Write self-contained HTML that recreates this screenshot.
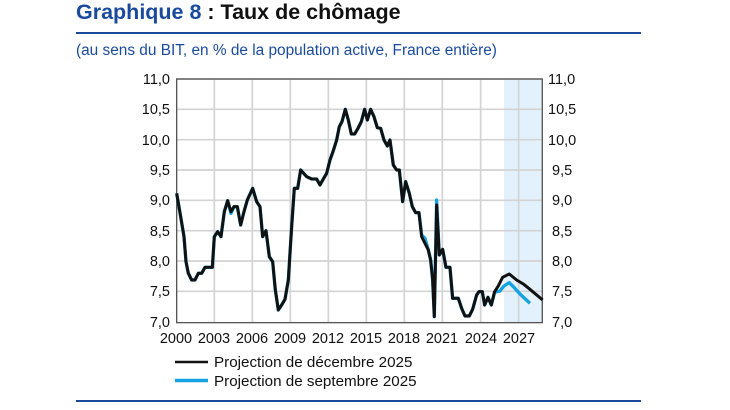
<!DOCTYPE html>
<html><head><meta charset="utf-8"><style>
body{margin:0;background:#fff;width:730px;height:410px;overflow:hidden}
svg{display:block;font-family:"Liberation Sans",Arial,sans-serif}
</style></head><body>
<svg width="730" height="410" viewBox="0 0 730 410">
<text x="76" y="19" font-size="21.5" font-weight="bold" fill="#1a4a9c">Graphique 8 <tspan fill="#111">: Taux de chômage</tspan></text>
<rect x="76" y="32" width="565" height="2" fill="#1d4a9a"/>
<text x="76" y="55" font-size="15.4" fill="#1a4a9c">(au sens du BIT, en % de la population active, France entière)</text>
<g transform="translate(160,60) scale(0.3333)">
<rect x="1032" y="57" width="115" height="731" fill="#e3f1fc"/>
<g stroke="#d3d3d3" stroke-width="5">
<line x1="50" x2="1147" y1="57" y2="57"/><line x1="50" x2="1147" y1="148" y2="148"/><line x1="50" x2="1147" y1="239" y2="239"/><line x1="50" x2="1147" y1="330" y2="330"/><line x1="50" x2="1147" y1="421" y2="421"/><line x1="50" x2="1147" y1="512" y2="512"/><line x1="50" x2="1147" y1="603" y2="603"/><line x1="50" x2="1147" y1="694" y2="694"/>
<line y1="57" y2="788" x1="163" x2="163"/><line y1="57" y2="788" x1="277" x2="277"/><line y1="57" y2="788" x1="391" x2="391"/><line y1="57" y2="788" x1="505" x2="505"/><line y1="57" y2="788" x1="619" x2="619"/><line y1="57" y2="788" x1="733" x2="733"/><line y1="57" y2="788" x1="847" x2="847"/><line y1="57" y2="788" x1="962" x2="962"/><line y1="57" y2="788" x1="1076" x2="1076"/>
</g>
<rect x="50" y="57" width="1097" height="731" fill="none" stroke="#555" stroke-width="4"/>
<polyline fill="none" stroke="#14a3e0" stroke-width="10" stroke-linejoin="round" points="50,400 62,470 72,530 78,605 85,640 95,660 105,660 115,640 125,640 135,622 150,622 157,622 163,530 173,515 183,530 193,455 203,422 213,460 222,440 232,440 242,495 252,455 262,420 278,385 290,425 300,440 308,530 318,512 328,590 338,605 346,690 355,750 365,735 375,718 385,660 395,500 403,385 413,385 422,330 440,350 455,357 470,357 480,375 490,357 500,340 510,300 520,272 530,240 538,200 546,185 556,148 565,180 574,222 584,222 594,205 604,185 614,148 622,180 632,148 642,170 652,203 662,205 672,240 682,258 690,240 700,315 710,330 718,330 728,425 737,365 748,400 757,440 767,458 777,458 785,525 795,535 805,570 812,600 818,660 823,770 830,420 838,585 848,568 858,622 870,622 878,715 895,715 905,745 915,768 928,768 938,748 950,705 957,695 967,695 974,735 984,712 994,735 1004,697 1020,693 1032,678 1048,668 1060,680 1080,702 1110,730"/>
<polyline fill="none" stroke="#111" stroke-width="9" stroke-linejoin="round" points="50,400 62,470 72,530 78,605 85,640 95,660 105,660 115,640 125,640 135,622 150,622 157,622 163,530 173,515 183,530 193,455 203,422 213,455 222,440 232,440 242,495 252,455 262,420 278,385 290,425 300,440 308,530 318,512 328,590 338,605 346,690 355,750 365,735 375,718 385,660 395,500 403,385 413,385 422,330 440,350 455,357 470,357 480,375 490,357 500,340 510,300 520,272 530,240 538,200 546,185 556,148 565,180 574,222 584,222 594,205 604,185 614,148 622,180 632,148 642,170 652,203 662,205 672,240 682,258 690,240 700,315 710,330 718,330 728,425 737,365 748,400 757,440 767,458 777,458 785,530 795,550 805,570 812,600 818,660 823,770 830,435 838,585 848,568 858,622 870,622 878,715 895,715 905,745 915,768 928,768 938,748 950,705 957,695 967,695 974,735 984,712 994,735 1004,695 1015,678 1028,652 1048,642 1070,660 1090,672 1110,688 1148,720"/>
</g>
<g font-size="14.5" fill="#111">
<g text-anchor="end">
<text x="170" y="84">11,0</text><text x="170" y="114">10,5</text><text x="170" y="145">10,0</text><text x="170" y="175">9,5</text><text x="170" y="205">9,0</text><text x="170" y="236">8,5</text><text x="170" y="266">8,0</text><text x="170" y="296">7,5</text><text x="170" y="327">7,0</text>
</g>
<g text-anchor="start">
<text x="548" y="84">11,0</text><text x="548" y="114">10,5</text><text x="548" y="145">10,0</text><text x="552" y="175">9,5</text><text x="552" y="205">9,0</text><text x="552" y="236">8,5</text><text x="552" y="266">8,0</text><text x="552" y="296">7,5</text><text x="552" y="327">7,0</text>
</g>
<g text-anchor="middle">
<text x="176" y="343">2000</text><text x="214" y="343">2003</text><text x="252" y="343">2006</text><text x="290" y="343">2009</text><text x="328" y="343">2012</text><text x="366" y="343">2015</text><text x="404" y="343">2018</text><text x="442" y="343">2021</text><text x="481" y="343">2024</text><text x="519" y="343">2027</text>
</g>
<line x1="175" x2="208" y1="362" y2="362" stroke="#111" stroke-width="2.5"/>
<line x1="175" x2="208" y1="380.5" y2="380.5" stroke="#14a3e0" stroke-width="3.5"/>
<text x="214" y="367" font-size="15.2">Projection de décembre 2025</text>
<text x="214" y="386" font-size="15.2">Projection de septembre 2025</text>
</g>
<rect x="76" y="400" width="565" height="2" fill="#1d4a9a"/>
</svg>
</body></html>
